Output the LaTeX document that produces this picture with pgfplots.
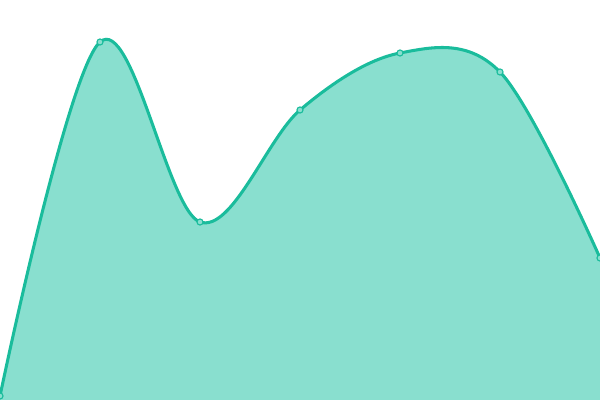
\documentclass[border=0pt]{standalone}
\usepackage{pgfplots}
\pgfplotsset{compat=1.18}
\definecolor{turq}{HTML}{1ABC9C}
\definecolor{turqfill}{HTML}{89DFCF}
\begin{document}
\begin{tikzpicture}
    \begin{axis}[
        width=6in, height=4in,
        scale only axis,
        hide axis,
        xmin=0, xmax=600,
        ymin=0, ymax=400,
        clip=true,
    ]
        \addplot[draw=none, fill=turqfill, smooth, tension=0.58] coordinates {
            (0,4) (100,358) (200,178) (300,290) (400,347) (500,328) (600,142)
        } \closedcycle;
        \addplot[turq, line width=2.2pt, smooth, tension=0.58,
            mark=*, mark size=2.2pt,
            mark options={fill=turqfill, draw=turq, line width=0.8pt}] coordinates {
            (0,4) (100,358) (200,178) (300,290) (400,347) (500,328) (600,142)
        };
    \end{axis}
    \pgfresetboundingbox
    \path (current axis.south west) rectangle (current axis.north east);
\end{tikzpicture}
\end{document}
